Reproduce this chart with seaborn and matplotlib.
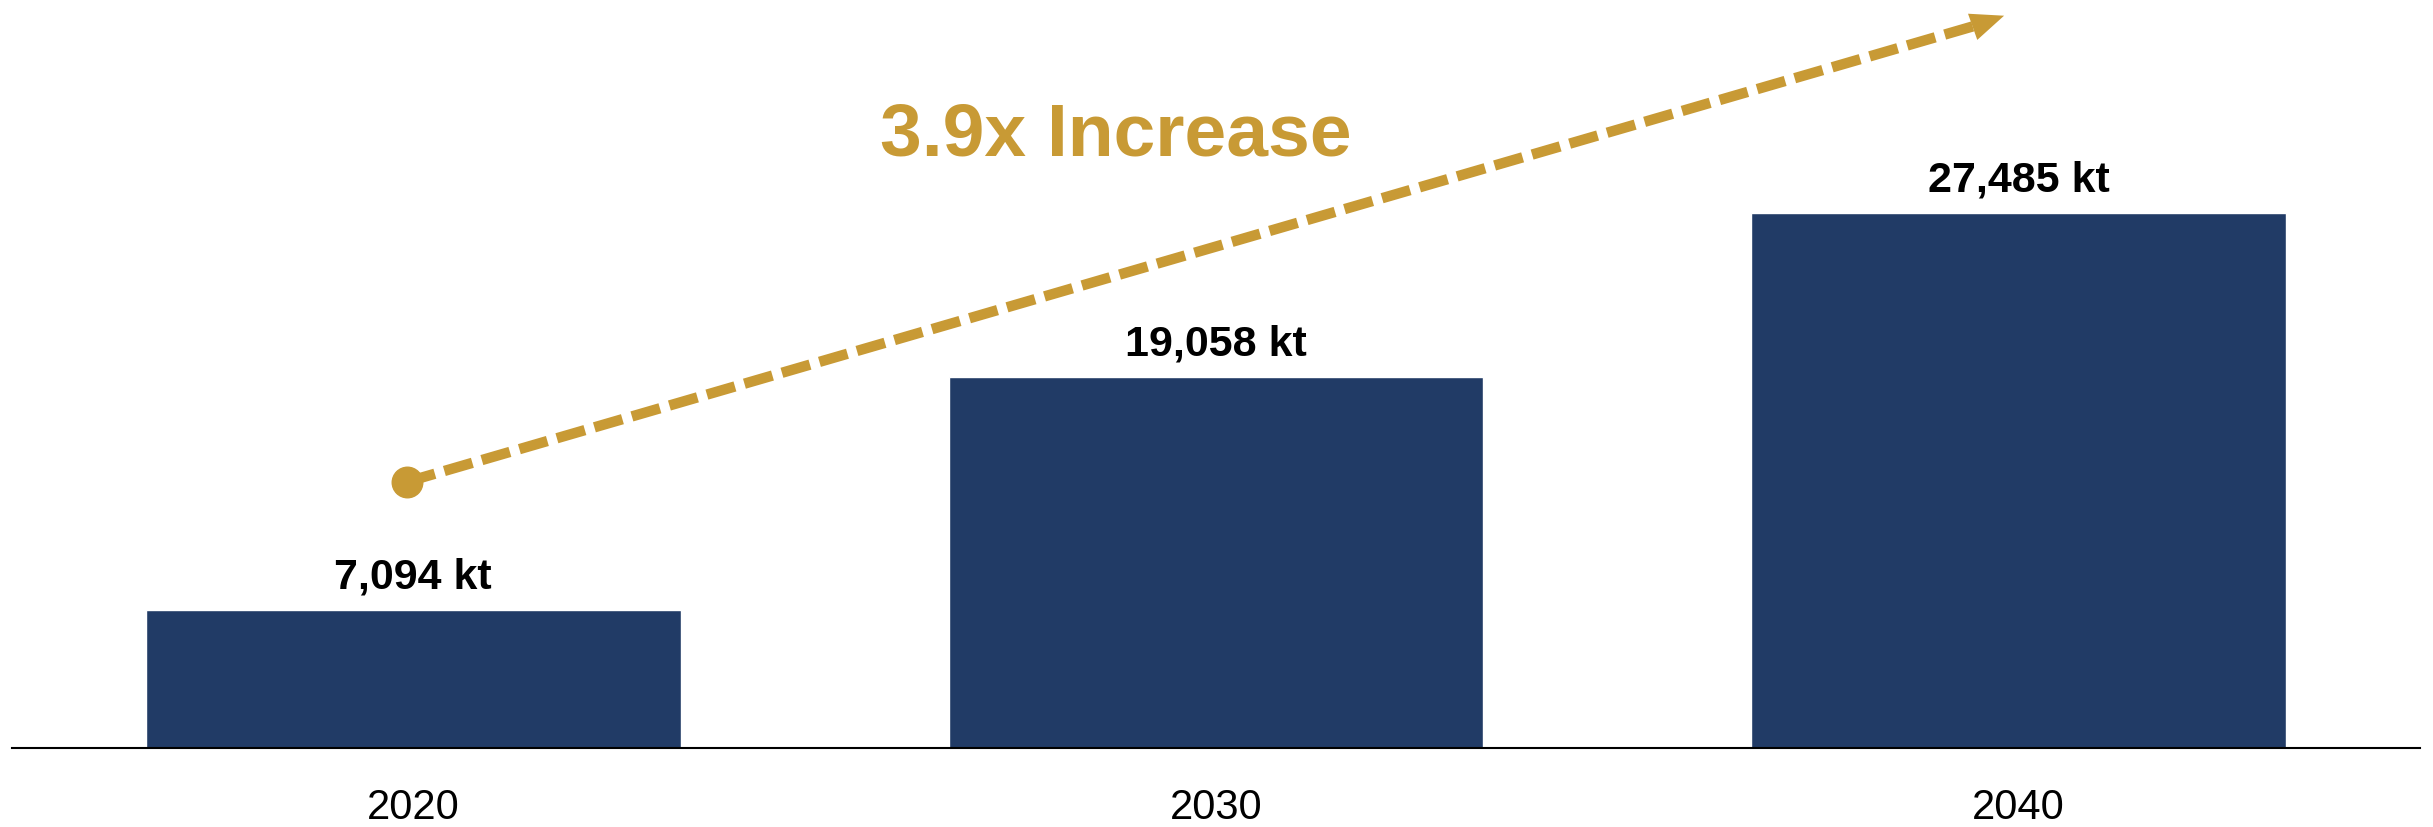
import matplotlib
matplotlib.use("Agg")
import matplotlib.pyplot as plt
import pandas as pd
import seaborn as sns

# data
years = ["2020", "2030", "2040"]
volumes = [7094, 19058, 27485]
bar_labels = ["7,094 kt", "19,058 kt", "27,485 kt"]
growth_text = "3.9x Increase"

navy = "#213B66"
gold = "#C89A35"

df = pd.DataFrame({"year": years, "kt": volumes})

sns.set_style("white")
plt.rcParams["font.family"] = ["Liberation Sans Narrow", "Liberation Sans", "DejaVu Sans"]

fig = plt.figure(figsize=(24.33, 8.27), dpi=100)
ax = fig.add_axes([0.0049, 0.0955, 0.9898, 0.9045])

sns.barplot(data=df, x="year", y="kt", color=navy, width=0.666, saturation=1, ax=ax)

ax.set_xlim(-0.5, 2.5)
ax.set_ylim(0, 38450)

# value labels
for i, (v, lab) in enumerate(zip(volumes, bar_labels)):
    ax.text(i, v + 1130, lab, ha="center", va="baseline", fontsize=31,
            fontweight="bold", color="black")

# growth arrow
x0, y0 = -0.008, 13680
x1, y1 = 1.985, 37690
ax.plot([x0, x1 - 0.035], [y0, y1 - 510], color=gold, lw=7.5, ls=(0, (2.8, 0.95)),
        solid_capstyle="butt", dash_capstyle="butt", zorder=3)
ax.plot([x0], [y0], marker="o", ms=22, color=gold, zorder=4)
ax.annotate("", xy=(x1, y1), xytext=(x1 - 0.035, y1 - 510),
            arrowprops=dict(arrowstyle="-|>,head_length=1.2,head_width=0.5",
                            color=gold, lw=0, mutation_scale=20), zorder=4)

ax.text(0.875, 31450, growth_text, ha="center", va="center", fontsize=54,
        fontweight="bold", color=gold, family=["Liberation Sans", "DejaVu Sans"])

sns.despine(ax=ax, left=True)
ax.spines["bottom"].set_color("black")
ax.spines["bottom"].set_linewidth(1.5)
ax.set_yticks([])
ax.set_xlabel("")
ax.set_ylabel("")
ax.tick_params(axis="x", length=0, labelsize=30, pad=29, colors="black")

fig.savefig("out.png", dpi=100)
